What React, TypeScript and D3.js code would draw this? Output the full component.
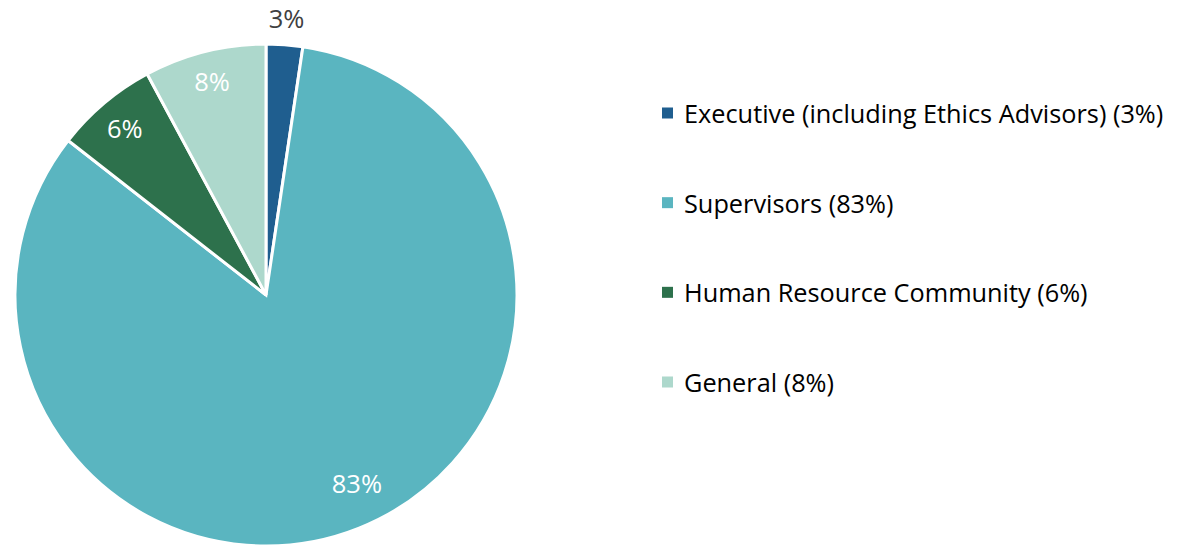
import React from "react";
import * as d3 from "d3";

const categories = [
  "Executive (including Ethics Advisors)",
  "Supervisors",
  "Human Resource Community",
  "General",
];
const values = [2.35, 83.2, 6.6, 7.85];
const percentLabels = ["3%", "83%", "6%", "8%"];
const colors = ["#1F5E8F", "#5AB5C0", "#2D714C", "#ADD8CC"];

const W = 1177;
const H = 547;
const cx = 266;
const cy = 295;
const R = 251;
const FONT = "'Open Sans', sans-serif";

export default function App() {
  const pie = d3
    .pie<number>()
    .sort(null)
    .value((d) => d)
    .startAngle(0)
    .endAngle(2 * Math.PI);
  const arcs = pie(values);
  const arc = d3.arc<d3.PieArcDatum<number>>().innerRadius(0).outerRadius(R);
  const inside = [false, true, true, true];
  const labelR = [278, 209, 219, 221];
  const labelShift = [0, -4, 0, 0];

  const legendY = d3
    .scalePoint<string>()
    .domain(categories)
    .range([113, 382]);

  return (
    <svg
      width={W}
      height={H}
      style={{ position: "absolute", left: 0, top: 0, background: "#fff" }}
    >
      <g transform={`translate(${cx},${cy})`}>
        {arcs.map((a, i) => (
          <path
            key={i}
            d={arc(a) || ""}
            fill={colors[i]}
            stroke="#fff"
            strokeWidth={3}
          />
        ))}
        {arcs.map((a, i) => {
          const mid = (a.startAngle + a.endAngle) / 2 + (labelShift[i] * Math.PI) / 180;
          const r = labelR[i];
          const x = Math.sin(mid) * r;
          const y = -Math.cos(mid) * r;
          return (
            <text
              key={"l" + i}
              x={x}
              y={y}
              textAnchor="middle"
              dominantBaseline="central"
              fontFamily={FONT}
              fontSize={25.5}
              fill={inside[i] ? "#ffffff" : "#404040"}
            >
              {percentLabels[i]}
            </text>
          );
        })}
      </g>
      {categories.map((c, i) => {
        const y = legendY(c) as number;
        return (
          <g key={"lg" + i}>
            <rect x={662} y={y - 5.5} width={11} height={11} fill={colors[i]} />
            <text
              x={684}
              y={y}
              dominantBaseline="central"
              fontFamily={FONT}
              fontSize={25.3}
              fill="#000"
            >
              {`${c} (${percentLabels[i]})`}
            </text>
          </g>
        );
      })}
    </svg>
  );
}
